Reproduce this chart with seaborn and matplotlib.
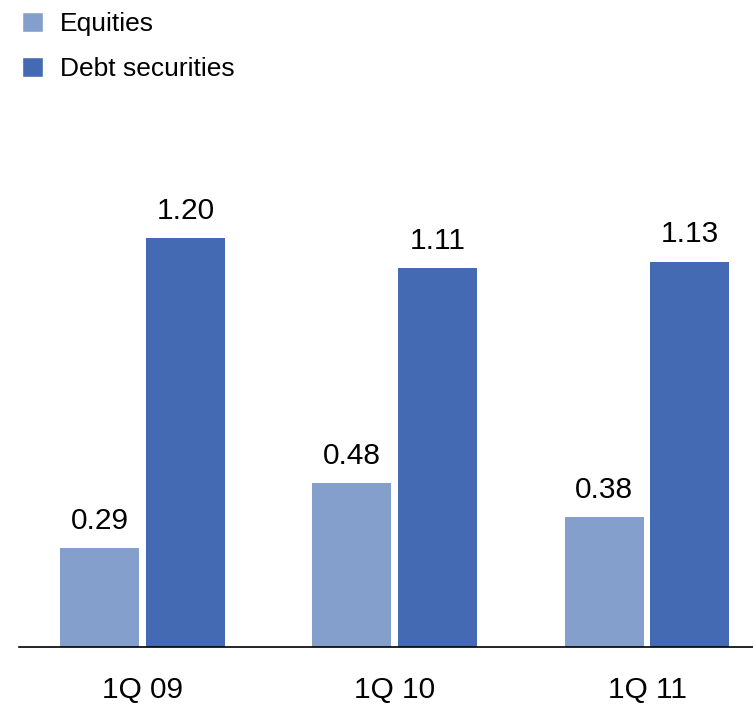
import matplotlib
matplotlib.use("Agg")
import matplotlib.pyplot as plt
import seaborn as sns
import pandas as pd
from matplotlib.patches import Patch

categories = ["1Q 09", "1Q 10", "1Q 11"]
series_names = ["Equities", "Debt securities"]
equities = [0.29, 0.48, 0.38]
debt = [1.20, 1.11, 1.13]
colors = ["#849FCC", "#436AB2"]

df = pd.DataFrame({
    "quarter": categories * 2,
    "series": [series_names[0]] * 3 + [series_names[1]] * 3,
    "value": equities + debt,
})

sns.set_style("white")
plt.rcParams["font.family"] = ["Liberation Sans", "DejaVu Sans"]
plt.rcParams["text.color"] = "black"

fig = plt.figure(figsize=(7.53, 7.04), dpi=100)
ax = fig.add_axes([19 / 753, 1 - 647 / 704, 1 - 19 / 753, (647 - 100) / 704])

sns.barplot(data=df, x="quarter", y="value", hue="series", hue_order=series_names,
            palette=colors, width=0.68, gap=0.08, ax=ax, legend=False,
            saturation=1, edgecolor="none")

for c in ax.containers:
    ax.bar_label(c, labels=[f"{v:.2f}" for v in c.datavalues], padding=9.5,
                 fontsize=21.5, color="black")

ax.set_xlim(-0.49, 2.42)
ax.set_ylim(0, 547 / 341)
ax.set_xlabel("")
ax.set_ylabel("")
ax.set_yticks([])
ax.tick_params(axis="x", length=0, pad=21, labelsize=21.5, labelcolor="black")
for s in ["top", "right", "left"]:
    ax.spines[s].set_visible(False)
ax.spines["bottom"].set_color("black")
ax.spines["bottom"].set_linewidth(1.2)

handles = [Patch(facecolor=colors[i], label=series_names[i]) for i in range(2)]
leg = fig.legend(handles=handles, loc="upper left", bbox_to_anchor=(11.5 / 753, 0.998),
                 frameon=False, fontsize=19, handlelength=0.8, handleheight=0.8,
                 handletextpad=0.64, labelspacing=0.78, borderaxespad=0.0)
for t in leg.get_texts():
    t.set_color("black")

fig.savefig("out.png", dpi=100)
